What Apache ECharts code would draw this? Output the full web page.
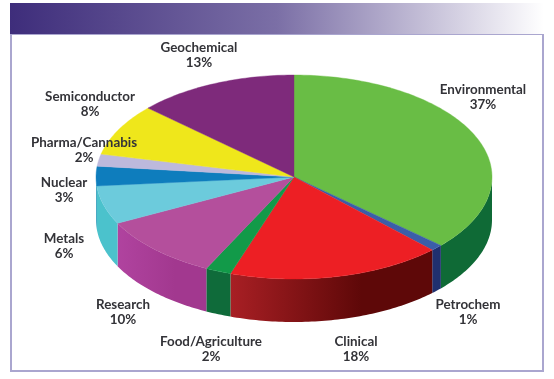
<!DOCTYPE html>
<html><head><meta charset="utf-8">
<style>html,body{margin:0;padding:0;background:#fff}#c{width:554px;height:379px}</style>
<script src="https://cdn.jsdelivr.net/npm/echarts@6/dist/echarts.min.js"></script>
</head><body><div id="c"></div>
<script>
const categories = ['Environmental','Petrochem','Clinical','Food/Agriculture','Research','Metals','Nuclear','Pharma/Cannabis','Semiconductor','Geochemical'];
const values = [36.7,1,17.5,2.1,10.2,6.1,3.1,1.9,8.2,13.2];
const topColors = ['#69bd45','#3b5ea9','#ed1f24','#129a49','#b44f9c','#6ccbdc','#0e7dbd','#bdb9dc','#efe71b','#7e2a7b'];
const sideFrom = ['#0f6a36','#20306f','#a81f24','#0f6b3a','#b0439f','#4bc2cc','#1f93b5','#bdb9dc','#efe71b','#7e2a7b'];
const sideTo   = ['#0f6a36','#20306f','#5e0808','#0f6b3a','#a2388f','#4bc2cc','#1f93b5','#bdb9dc','#efe71b','#7e2a7b'];

// layout
const labelCentres = [[483,97],[468,312],[356,349],[211,349],[123,312],[64,246],[64,190],[84,150],[90,104],[199,55]];
const CX = 294, CY = 177, RX = 198, RY = 102, DEPTH = 43;
const total = values.reduce((a, b) => a + b, 0);
const pt = (t, dy) => [CX + RX * Math.sin(t), CY - RY * Math.cos(t) + dy];
function arc(a, b, dy) {
  const n = Math.max(2, Math.ceil((b - a) * 60)), out = [];
  for (let i = 0; i <= n; i++) out.push(pt(a + (b - a) * i / n, dy));
  return out;
}
function renderItem(params, api) {
  const i = params.dataIndex;
  let before = 0;
  for (let k = 0; k < i; k++) before += values[k];
  const a = before / total * 2 * Math.PI;
  const b = (before + api.value(0)) / total * 2 * Math.PI;
  const children = [];
  const s = Math.max(a, Math.PI / 2), e = Math.min(b, 3 * Math.PI / 2);
  if (e > s) {
    const top = arc(s, e, 0), bottom = arc(s, e, DEPTH).reverse();
    // sides run clockwise, i.e. right to left on the front of the pie
    const fill = new echarts.graphic.LinearGradient(1, 0, 0, 0, [
      { offset: 0, color: sideTo[i] }, { offset: 0.35, color: sideTo[i] }, { offset: 1, color: sideFrom[i] }]);
    children.push({ type: 'polygon', z2: 1, shape: { points: top.concat(bottom) }, style: { fill, stroke: null } });
  }
  children.push({
    type: 'polygon', z2: 2,
    shape: { points: [[CX, CY]].concat(arc(a, b, 0)) },
    style: { fill: topColors[i], stroke: topColors[i], lineWidth: 0.4 }
  });
  return { type: 'group', children };
}
function labelItem(params, api) {
  const i = params.dataIndex;
  return {
    type: 'text', z2: 10,
    style: {
      x: labelCentres[i][0], y: labelCentres[i][1],
      text: categories[i] + '\n' + Math.round(api.value(0)) + '%',
      fill: '#333338', font: 'bold 13.4px Lato', align: 'center', verticalAlign: 'middle', lineHeight: 15.5
    }
  };
}
const chart = echarts.init(document.getElementById('c'), null, { renderer: 'canvas' });
chart.setOption({
  animation: false,
  backgroundColor: '#ffffff',
  graphic: [
    { type: 'rect', z: 0, shape: { x: 11, y: 34, width: 532, height: 337 }, style: { fill: '#fff', stroke: '#aaa6cf', lineWidth: 2 } },
    { type: 'rect', z: 1, shape: { x: 10, y: 3, width: 534, height: 31 },
      style: { fill: new echarts.graphic.LinearGradient(0, 0, 1, 0, [
        { offset: 0, color: '#3e2d7b' }, { offset: 0.5, color: '#7b6fa6' }, { offset: 1, color: '#ffffff' }]) } }
  ],
  series: [
    { type: 'custom', coordinateSystem: 'none', z: 5, silent: true, renderItem, data: values.map(v => [v]) },
    { type: 'custom', coordinateSystem: 'none', z: 6, silent: true, renderItem: labelItem, data: values.map(v => [v]) }
  ]
});
</script></body></html>
